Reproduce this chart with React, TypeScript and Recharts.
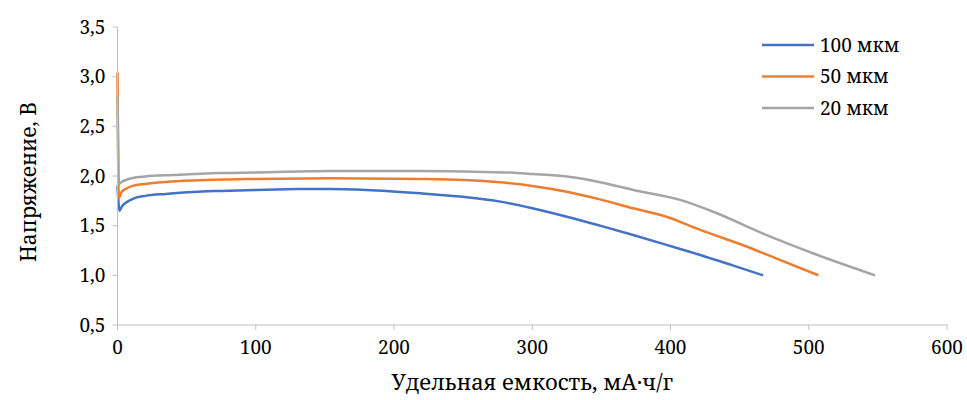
import { Line, LineChart, XAxis, YAxis } from "recharts";

// discharge curves, capacity (mA·h/g) vs voltage (V)
const blue100 = [
  { x: 0, y: 1.9 }, { x: 0.8, y: 1.72 }, { x: 1.5, y: 1.65 }, { x: 3, y: 1.69 },
  { x: 6, y: 1.73 }, { x: 11, y: 1.77 }, { x: 20, y: 1.8 }, { x: 35, y: 1.82 },
  { x: 55, y: 1.84 }, { x: 75, y: 1.85 }, { x: 100, y: 1.86 }, { x: 130, y: 1.868 },
  { x: 154, y: 1.87 }, { x: 180, y: 1.86 }, { x: 219, y: 1.826 }, { x: 250, y: 1.79 },
  { x: 277, y: 1.742 }, { x: 300, y: 1.675 }, { x: 325, y: 1.59 }, { x: 349, y: 1.5 },
  { x: 373, y: 1.406 }, { x: 407, y: 1.265 }, { x: 421.5, y: 1.205 }, { x: 445, y: 1.1 },
  { x: 467, y: 1.0 },
];
const orange50 = [
  { x: 0, y: 3.04 }, { x: 0.5, y: 2.1 }, { x: 1, y: 1.78 }, { x: 3, y: 1.84 },
  { x: 6, y: 1.87 }, { x: 11, y: 1.9 }, { x: 20, y: 1.92 }, { x: 35, y: 1.94 },
  { x: 55, y: 1.955 }, { x: 80, y: 1.965 }, { x: 100, y: 1.97 }, { x: 154, y: 1.977 },
  { x: 219, y: 1.97 }, { x: 250, y: 1.96 }, { x: 277, y: 1.937 }, { x: 300, y: 1.9 },
  { x: 325, y: 1.842 }, { x: 349, y: 1.765 }, { x: 373, y: 1.675 }, { x: 397, y: 1.59 },
  { x: 421.5, y: 1.457 }, { x: 455, y: 1.29 }, { x: 480, y: 1.15 }, { x: 507, y: 1.0 },
];
const gray20 = [
  { x: 0, y: 2.8 }, { x: 0.5, y: 2.2 }, { x: 1, y: 1.92 }, { x: 3, y: 1.94 },
  { x: 6, y: 1.96 }, { x: 11, y: 1.98 }, { x: 20, y: 1.995 }, { x: 40, y: 2.01 },
  { x: 74, y: 2.03 }, { x: 100, y: 2.035 }, { x: 154, y: 2.05 }, { x: 219, y: 2.05 },
  { x: 250, y: 2.045 }, { x: 284, y: 2.034 }, { x: 300, y: 2.02 }, { x: 325, y: 1.994 },
  { x: 350, y: 1.935 }, { x: 373, y: 1.86 }, { x: 407, y: 1.76 }, { x: 431, y: 1.64 },
  { x: 467, y: 1.42 }, { x: 503.5, y: 1.22 }, { x: 548, y: 1.0 },
];

const xTicks = [0, 100, 200, 300, 400, 500, 600];
const yTicks = [0.5, 1.0, 1.5, 2.0, 2.5, 3.0, 3.5];

const series = [
  { name: "100 мкм", data: blue100, color: "#4472C4" },
  { name: "50 мкм", data: orange50, color: "#ED7D31" },
  { name: "20 мкм", data: gray20, color: "#A5A5A5" },
];

// the Liberation Serif in the sandbox falls back to sans for Cyrillic/digits,
// Noto Serif covers everything
const FONT = "'Noto Serif', serif";
const AXIS = "#BFBFBF";

// legend is drawn on its own so it does not push the plot area down
function LegendBox() {
  return (
    <svg
      width={180}
      height={100}
      style={{ position: "absolute", left: 760, top: 31, fontFamily: FONT }}
    >
      {series.map((s, i) => (
        <g key={s.name} transform={`translate(0, ${14 + i * 31.5})`}>
          <line x1={2} x2={54} y1={0} y2={0} stroke={s.color} strokeWidth={2.5} />
          <text x={60} y={0} dy="0.35em" fontSize={19} fontFamily={FONT} fill="#000">
            {s.name}
          </text>
        </g>
      ))}
    </svg>
  );
}

export default function App() {
  return (
    <div style={{ position: "absolute", left: 0, top: 0, width: 967, height: 400, fontFamily: FONT }}>
      <LineChart width={967} height={400} margin={{ top: 27, right: 20, bottom: 0, left: 0 }}>
        <XAxis
          type="number"
          dataKey="x"
          domain={[0, 600]}
          ticks={xTicks}
          height={75}
          stroke={AXIS}
          tickSize={5}
          tickMargin={11}
          tick={{ fill: "#000", fontSize: 19, fontFamily: FONT }}
          allowDuplicatedCategory={false}
          label={{
            value: "Удельная емкость, мА·ч/г",
            position: "insideBottom",
            offset: 10,
            fill: "#000",
            fontSize: 22,
            fontFamily: FONT,
          }}
        />
        <YAxis
          type="number"
          domain={[0.5, 3.5]}
          ticks={yTicks}
          width={117.5}
          stroke={AXIS}
          tickSize={5}
          tickMargin={7}
          tick={{ fill: "#000", fontSize: 19, fontFamily: FONT }}
          tickFormatter={(v: number) => v.toFixed(1).replace(".", ",")}
          label={({ viewBox }: any) => {
            const cy = viewBox.y + viewBox.height / 2 + 6;
            return (
              <text
                x={28}
                y={cy}
                transform={`rotate(-90 28 ${cy})`}
                textAnchor="middle"
                dominantBaseline="central"
                fontSize={21}
                fontFamily={FONT}
                fill="#000"
              >
                Напряжение, В
              </text>
            );
          }}
        />
        {series.map((s) => (
          <Line
            key={s.name}
            data={s.data}
            dataKey="y"
            name={s.name}
            type="monotone"
            stroke={s.color}
            strokeWidth={2.5}
            dot={false}
            activeDot={false}
            isAnimationActive={false}
          />
        ))}
      </LineChart>
      <LegendBox />
    </div>
  );
}
